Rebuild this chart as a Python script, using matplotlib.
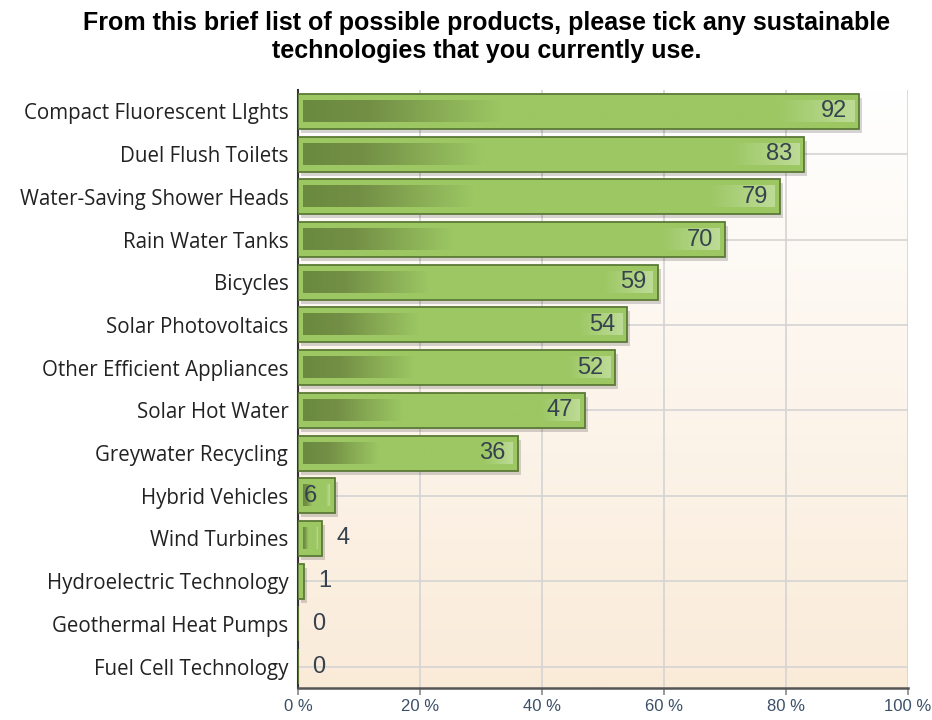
import matplotlib
matplotlib.use('Agg')
import numpy as np
import matplotlib.pyplot as plt
from matplotlib.colors import LinearSegmentedColormap
from matplotlib.patches import Rectangle

categories = ['Compact Fluorescent LIghts', 'Duel Flush Toilets', 'Water-Saving Shower Heads',
              'Rain Water Tanks', 'Bicycles', 'Solar Photovoltaics', 'Other Efficient Appliances',
              'Solar Hot Water', 'Greywater Recycling', 'Hybrid Vehicles', 'Wind Turbines',
              'Hydroelectric Technology', 'Geothermal Heat Pumps', 'Fuel Cell Technology']
values = [92, 83, 79, 70, 59, 54, 52, 47, 36, 6, 4, 1, 0, 0]
xticks = [0, 20, 40, 60, 80, 100]
xtick_labels = ['0 %', '20 %', '40 %', '60 %', '80 %', '100 %']
title = 'From this brief list of possible products, please tick any sustainable\ntechnologies that you currently use.'

fig = plt.figure(figsize=(9.32, 7.2), dpi=100)
ax = fig.add_axes([298/932, 1-688/720, 610/932, 598/720])

# background gradient white -> peach
bg = LinearSegmentedColormap.from_list('bg', ['#ffffff', '#faebd9'])
ax.imshow(np.linspace(0, 1, 256).reshape(-1, 1), cmap=bg, aspect='auto',
          extent=[0, 100, 13.5, -0.5], zorder=0)

ax.set_xlim(0, 100)
ax.set_ylim(13.5, -0.5)

# grid
for xt in xticks[1:]:
  ax.axvline(xt, color='#d4d4d4', lw=1.2, zorder=1)
for i in range(1, len(categories), 2):
  ax.axhline(i, color='#d4d4d4', lw=1.2, zorder=1)

bar_cmap = LinearSegmentedColormap.from_list('bar', [(0, '#6a8a40'), (0.12, '#738f45'),
                                                    (0.36, '#9cc763'), (0.86, '#9cc763'),
                                                    (1.0, '#bddb97')])
grad = np.linspace(0, 1, 256).reshape(1, -1)

px = 100/610.0   # data units per pixel in x
py = 14/598.0    # data units per pixel in y
h = 0.82
for i, v in enumerate(values):
  # shadow
  if v > 0:
    ax.add_patch(Rectangle((3*px, i - h/2 + 4*py), v, h, facecolor='#000000', alpha=0.16,
                           edgecolor='none', zorder=2))
  ax.add_patch(Rectangle((0, i - h/2), v, h, facecolor='#9cc763', edgecolor='#5b7a36',
                         lw=1.3, zorder=3))
  inner_w = v - 10*px
  if inner_w > 0:
    ax.imshow(grad, cmap=bar_cmap, aspect='auto',
              extent=[5*px, 5*px + inner_w, i + h/2 - 7*py, i - h/2 + 7*py], zorder=4)
  if v >= 10:
    ax.text(v - 12*px, i, str(v), ha='right', va='center', fontsize=17,
            family='Liberation Sans', color='#36424d', zorder=5)
  elif v >= 5:
    ax.text(6*px, i, str(v), ha='left', va='center', fontsize=17,
            family='Liberation Sans', color='#36424d', zorder=5)
  else:
    ax.text(v + 14*px, i, str(v), ha='left', va='center', fontsize=17,
            family='Liberation Sans', color='#36424d', zorder=5)

ax.set_yticks(range(len(categories)))
ax.set_yticklabels(categories, family='Open Sans', fontsize=14.8, color='#222222')
ax.tick_params(axis='y', length=0, pad=7)
ax.set_xticks(xticks)
ax.set_xticklabels(xtick_labels, family='Liberation Sans', fontsize=12, color='#3b5068')
ax.tick_params(axis='x', length=5, color='#888888', width=1.2, pad=3)

for s in ['top', 'right']:
  ax.spines[s].set_visible(False)
ax.spines['left'].set_color('#333333')
ax.spines['left'].set_linewidth(1.5)
ax.spines['bottom'].set_color('#555555')
ax.spines['bottom'].set_linewidth(1.8)

fig.text(487/932, 1-37/720, title, ha='center', va='center', fontsize=18,
         fontweight='bold', family='Liberation Sans', linespacing=1.2)

fig.savefig('out.png', dpi=100)
